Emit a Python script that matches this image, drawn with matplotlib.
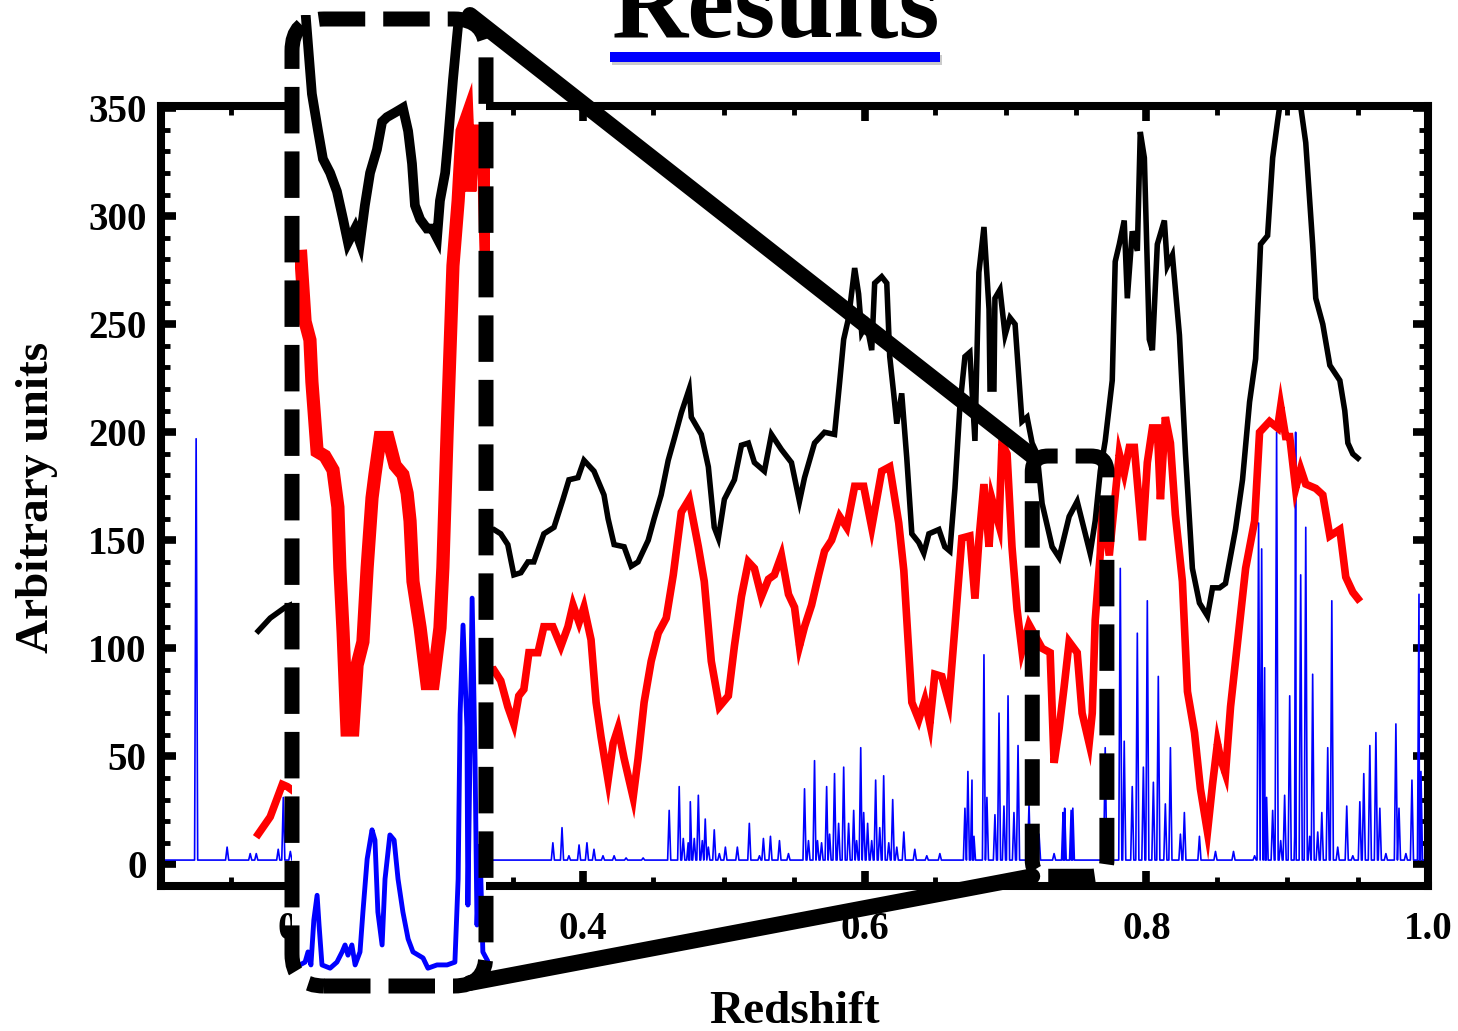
import matplotlib
matplotlib.use("Agg")
import matplotlib.pyplot as plt
from matplotlib.patches import FancyBboxPatch, Rectangle, ConnectionPatch
from matplotlib.transforms import IdentityTransform
from matplotlib.ticker import MultipleLocator

plt.rcParams['font.family'] = ['Liberation Serif', 'DejaVu Serif']
plt.rcParams['font.weight'] = 'bold'

# ------------------------------------------------------------------ data
title_text = "Results"
x_label = "Redshift"
y_label = "Arbitrary units"

x_ticks = [0.2, 0.4, 0.6, 0.8, 1.0]
x_tick_labels = ["0.2", "0.4", "0.6", "0.8", "1.0"]
y_ticks = [0, 50, 100, 150, 200, 250, 300, 350]
y_tick_labels = ["0", "50", "100", "150", "200", "250", "300", "350"]

# black curve (main panel)
black_z = [0.1694, 0.1779, 0.1886, 0.220, 0.260, 0.300, 0.3367, 0.3416, 0.3466, 0.3509,
           0.3559, 0.3609, 0.3651, 0.3722, 0.3794, 0.3858, 0.3900, 0.3964, 0.4007, 0.4078,
           0.4149, 0.4178, 0.4221, 0.4292, 0.4342, 0.4391, 0.4463, 0.4505, 0.4555, 0.4605,
           0.4648, 0.4698, 0.4754, 0.4769, 0.4840, 0.4890, 0.4932, 0.4961, 0.5004, 0.5075,
           0.5125, 0.5174, 0.5217, 0.5288, 0.5338, 0.5409, 0.5480, 0.5537, 0.5573, 0.5644,
           0.5715, 0.5786, 0.5822, 0.5851, 0.5886, 0.5929, 0.5957, 0.5979, 0.6014, 0.6050,
           0.6071, 0.6121, 0.6157, 0.6178, 0.6206, 0.6228, 0.6263, 0.6299, 0.6335, 0.6384,
           0.6420, 0.6456, 0.6527, 0.6569, 0.6605, 0.6641, 0.6676, 0.6712, 0.6747, 0.6783,
           0.6811, 0.6847, 0.6883, 0.6890, 0.6918, 0.6925, 0.6961, 0.6997, 0.7032, 0.7068,
           0.7096, 0.7117, 0.7153, 0.7189, 0.7224, 0.7260, 0.7331, 0.7381, 0.7452, 0.7509,
           0.7559, 0.7601, 0.7637, 0.7673, 0.7708, 0.7758, 0.7779, 0.7808, 0.7843, 0.7865,
           0.7900, 0.7936, 0.7957, 0.7986, 0.8021, 0.8043, 0.8078, 0.8128, 0.8149, 0.8185,
           0.8235, 0.8278, 0.8327, 0.8377, 0.8434, 0.8470, 0.8520, 0.8562, 0.8633, 0.8683,
           0.8733, 0.8776, 0.8811, 0.8861, 0.8897, 0.8932, 0.8954, 0.9089, 0.9132, 0.9181,
           0.9203, 0.9253, 0.9303, 0.9374, 0.9409, 0.9431, 0.9466, 0.9502]
black_v = [108, 114, 119, 128, 140, 150, 155, 153, 148, 134,
           135, 140, 140, 153, 156, 169, 178, 179, 187, 182,
           171, 160, 148, 147, 138, 140, 150, 160, 171, 187,
           197, 209, 220, 207, 199, 184, 156, 151, 169, 178,
           194, 195, 186, 182, 199, 192, 186, 168, 179, 195,
           200, 199, 223, 243, 253, 276, 264, 246, 250, 238,
           269, 272, 269, 235, 218, 204, 218, 188, 153, 149,
           144, 153, 155, 147, 145, 174, 212, 235, 237, 196,
           274, 295, 257, 220, 220, 262, 266, 245, 253, 250,
           224, 205, 207, 195, 190, 167, 147, 142, 161, 168,
           155, 144, 159, 182, 196, 224, 279, 287, 298, 262,
           293, 284, 339, 327, 243, 238, 287, 298, 277, 282,
           245, 190, 137, 121, 115, 128, 128, 130, 155, 178,
           214, 234, 287, 291, 327, 344, 354, 354, 334, 287,
           262, 250, 231, 224, 210, 195, 190, 188]

# red curve (main panel)
red_z = [0.1694, 0.1779, 0.1865, 0.1900, 0.1943, 0.220, 0.260, 0.300, 0.3367, 0.3416,
         0.3466, 0.3509, 0.3544, 0.3580, 0.3616, 0.3680, 0.3722, 0.3786, 0.3843, 0.3893,
         0.3929, 0.3972, 0.4007, 0.4057, 0.4093, 0.4128, 0.4178, 0.4214, 0.4249, 0.4292,
         0.4356, 0.4391, 0.4434, 0.4484, 0.4534, 0.4591, 0.4641, 0.4698, 0.4754, 0.4819,
         0.4861, 0.4911, 0.4968, 0.5032, 0.5075, 0.5125, 0.5174, 0.5217, 0.5267, 0.5317,
         0.5359, 0.5409, 0.5459, 0.5502, 0.5537, 0.5573, 0.5623, 0.5673, 0.5715, 0.5765,
         0.5822, 0.5872, 0.5929, 0.5993, 0.6050, 0.6121, 0.6178, 0.6242, 0.6278, 0.6335,
         0.6384, 0.6427, 0.6463, 0.6498, 0.6548, 0.6598, 0.6641, 0.6690, 0.6747, 0.6783,
         0.6811, 0.6847, 0.6883, 0.6904, 0.6954, 0.6975, 0.7011, 0.7046, 0.7082, 0.7117,
         0.7167, 0.7260, 0.7317, 0.7345, 0.7381, 0.7416, 0.7452, 0.7509, 0.7544, 0.7594,
         0.7616, 0.7637, 0.7673, 0.7687, 0.7737, 0.7779, 0.7808, 0.7843, 0.7879, 0.7915,
         0.7972, 0.8007, 0.8043, 0.8078, 0.8100, 0.8135, 0.8171, 0.8206, 0.8256, 0.8292,
         0.8342, 0.8384, 0.8434, 0.8470, 0.8505, 0.8527, 0.8562, 0.8598, 0.8662, 0.8705,
         0.8769, 0.8804, 0.8875, 0.8932, 0.8954, 0.8989, 0.9018, 0.9060, 0.9096, 0.9132,
         0.9203, 0.9253, 0.9303, 0.9374, 0.9416, 0.9466, 0.9502]
red_v = [14, 22, 37, 36, 34, 45, 70, 85, 90, 85,
         73, 65, 78, 81, 98, 98, 110, 110, 101, 110,
         120, 112, 119, 104, 75, 59, 39, 56, 63, 49,
         31, 49, 75, 94, 107, 114, 134, 163, 169, 147,
         131, 94, 73, 78, 101, 124, 140, 137, 124, 132,
         134, 143, 125, 119, 101, 110, 120, 134, 145, 150,
         161, 156, 175, 175, 156, 182, 184, 158, 136, 75,
         67, 76, 65, 88, 87, 75, 110, 151, 152, 123,
         150, 176, 147, 169, 157, 195, 190, 147, 118, 99,
         111, 100, 98, 47, 63, 82, 103, 98, 70, 56,
         70, 113, 144, 166, 143, 171, 190, 181, 193, 193,
         150, 186, 202, 202, 169, 207, 195, 162, 131, 80,
         61, 35, 15, 37, 56, 49, 42, 73, 111, 137,
         159, 200, 205, 202, 212, 198, 198, 174, 183, 176,
         174, 171, 152, 155, 133, 126, 123]

# blue spectrum (main panel): baseline level and individual peaks
blue_base = 2.0
blue_span = (0.100, 0.997)
blue_peak_z = [0.1253, 0.1473, 0.1637, 0.1680, 0.1836, 0.1872, 0.1922,
               0.3786, 0.3851, 0.3900, 0.3972, 0.4028, 0.4078, 0.4142, 0.4221, 0.4306, 0.4427,
               0.4612, 0.4683, 0.4712, 0.4747, 0.4762, 0.4790, 0.4819, 0.4847, 0.4868, 0.4890,
               0.4932, 0.4968, 0.5011, 0.5096, 0.5181, 0.5253, 0.5281, 0.5331, 0.5395, 0.5459,
               0.5573, 0.5601, 0.5644, 0.5665, 0.5694, 0.5730, 0.5751, 0.5786, 0.5815, 0.5851,
               0.5886, 0.5922, 0.5943, 0.5972, 0.5993, 0.6021, 0.6050, 0.6078, 0.6107, 0.6135,
               0.6171, 0.6199, 0.6228, 0.6278, 0.6356, 0.6441, 0.6534,
               0.6712, 0.6733, 0.6762, 0.6776, 0.6847, 0.6868, 0.6925, 0.6954, 0.6989, 0.7018,
               0.7060, 0.7089, 0.7167, 0.7238, 0.7345, 0.7409, 0.7420, 0.7466, 0.7478,
               0.7708, 0.7815, 0.7843, 0.7900, 0.7936, 0.7979, 0.8007, 0.8050, 0.8085, 0.8135,
               0.8171, 0.8242, 0.8270, 0.8377, 0.8491, 0.8619, 0.8769,
               0.8797, 0.8819, 0.8840, 0.8854, 0.8897, 0.8925, 0.8954, 0.8982, 0.9018, 0.9053,
               0.9060, 0.9096, 0.9132, 0.9160, 0.9181, 0.9217, 0.9246, 0.9288, 0.9317, 0.9359,
               0.9423, 0.9466, 0.9516, 0.9544, 0.9587, 0.9630, 0.9658, 0.9701, 0.9772, 0.9794,
               0.9843, 0.9886, 0.9936, 0.9950]
blue_peak_v = [197, 8, 5, 5, 7, 31, 6,
               10, 17, 4, 9, 10, 7, 4, 4, 3, 3,
               25, 36, 12, 10, 29, 12, 32, 11, 21, 8,
               16, 5, 8, 8, 19, 4, 12, 13, 11, 5,
               35, 11, 48, 11, 10, 36, 14, 42, 19, 45,
               19, 25, 11, 54, 24, 19, 11, 39, 17, 41,
               10, 30, 8, 15, 7, 4, 5,
               26, 43, 39, 13, 97, 31, 23, 70, 27, 78,
               24, 55, 28, 14, 5, 24, 26, 25, 26,
               54, 137, 57, 36, 107, 45, 122, 38, 87, 28,
               54, 14, 24, 13, 6, 6, 4,
               158, 146, 91, 31, 25, 200, 11, 32, 78, 13,
               200, 134, 156, 13, 88, 15, 24, 54, 122, 8,
               27, 4, 29, 42, 55, 61, 26, 5, 65, 26,
               5, 39, 125, 43]

# zoomed region shown in the inset (redshift, arbitrary units)
zoom_z = (0.719, 0.772)
zoom_v = (-5.5, 189.0)

# inset curves
inset_black_z = [0.7214, 0.7232, 0.7251, 0.7266, 0.7288, 0.7309, 0.7328, 0.7343, 0.7365, 0.7380,
                 0.7395, 0.7411, 0.7432, 0.7448, 0.7463, 0.7488, 0.7512, 0.7528, 0.7540, 0.7549,
                 0.7565, 0.7586, 0.7602, 0.7617, 0.7626, 0.7642, 0.7651, 0.7666, 0.7678, 0.7685]
inset_black_v = [199, 183, 175, 169, 166, 162, 156, 151, 154, 151,
                 159, 166, 171, 177, 178, 179, 180, 175, 168, 159,
                 156, 154, 154, 152, 160, 166, 173, 186, 195, 200]
inset_red_z = [0.7198, 0.7211, 0.7226, 0.7232, 0.7248, 0.7272, 0.7297, 0.7312, 0.7318, 0.7328,
               0.7340, 0.7358, 0.7371, 0.7389, 0.7402, 0.7417, 0.7426, 0.7442, 0.7466, 0.7488,
               0.7512, 0.7525, 0.7534, 0.7543, 0.7565, 0.7586, 0.7605, 0.7626, 0.7635, 0.7648,
               0.7666, 0.7682, 0.7694, 0.7709, 0.7718, 0.7728, 0.7758, 0.7768]
inset_red_v = [148, 134, 130, 121, 106, 105, 102, 94, 81, 67,
               46, 46, 60, 65, 81, 96, 101, 109, 109, 103,
               101, 97, 91, 78, 68, 56, 56, 68, 81, 110,
               146, 160, 175, 178, 162, 175, 175, 149]
inset_blue_z = [0.7195, 0.7211, 0.7220, 0.7229, 0.7238, 0.7248, 0.7254, 0.7263, 0.7288, 0.7309,
                0.7325, 0.7334, 0.7343, 0.7355, 0.7365, 0.7380, 0.7389, 0.7402, 0.7417, 0.7426,
                0.7435, 0.7448, 0.7457, 0.7472, 0.7485, 0.7497, 0.7512, 0.7528, 0.7543, 0.7574,
                0.7589, 0.7617, 0.7648, 0.7672, 0.7682, 0.7688, 0.7697, 0.7709, 0.7712, 0.7725,
                0.7734, 0.7740, 0.7749, 0.7758, 0.7771]
inset_blue_v = [-4.6, -4.0, -1.8, -4.6, 5.1, 10.4, 4.0, -4.6, -5.3, -4.0,
                -1.8, -0.3, -2.5, -0.3, -4.6, -1.8, 6.8, 18.2, 24.5, 22.3,
                6.8, -0.3, 13.9, 23.4, 22.3, 13.9, 6.8, 1.0, -1.8, -3.1,
                -5.3, -4.6, -4.6, -4.0, 13.9, 49.4, 68.6, 46.6, 8.3, 74.4,
                39.5, 4.0, 21.0, -1.8, -3.5]

# ------------------------------------------------------------------ layout
W, H = 1458, 1031
DPI = 100
BLACK, RED, BLUE = "#000000", "#ff0000", "#0000ff"


def fx(px):
    return px / W


def fy(py):
    return 1.0 - py / H


def spike_path(peaks_z, peaks_v, base, span, half=0.0011):
    pts = [(span[0], base), (span[1], base)]
    for z, v in zip(peaks_z, peaks_v):
        pts += [(z - half, base), (z, v), (z + half, base)]
    pts.sort(key=lambda p: p[0])
    return [p[0] for p in pts], [p[1] for p in pts]


fig = plt.figure(figsize=(W / DPI, H / DPI), dpi=DPI)
fig.patch.set_facecolor("white")

ax = fig.add_axes([fx(160.5), fy(886), fx(1428) - fx(160.5), fy(106) - fy(886)])
ax.set_xlim(0.1, 1.0)
ax.set_ylim(-10, 351)

bz, bv = spike_path(blue_peak_z, blue_peak_v, blue_base, blue_span)
ax.plot(bz, bv, color=BLUE, lw=1.2, zorder=2)
ax.plot(red_z, red_v, color=RED, lw=5.5, zorder=3, solid_joinstyle="miter")
ax.plot(black_z, black_v, color=BLACK, lw=4.0, zorder=4, solid_joinstyle="miter")

ax.set_xticks(x_ticks)
ax.set_xticklabels(x_tick_labels)
ax.set_yticks(y_ticks)
ax.set_yticklabels(y_tick_labels)
ax.xaxis.set_minor_locator(MultipleLocator(0.05))
ax.yaxis.set_minor_locator(MultipleLocator(10))
ax.tick_params(which="both", direction="in", top=True, right=True, color=BLACK)
ax.tick_params(which="major", length=10.8, width=5.5, labelsize=28)
ax.tick_params(which="minor", length=6.7, width=3.5)
ax.tick_params(axis="y", which="major", pad=10)
ax.tick_params(axis="x", which="major", pad=18)
for lab in ax.get_xticklabels() + ax.get_yticklabels():
    lab.set_fontweight("bold")
for s in ax.spines.values():
    s.set_linewidth(5.8)
    s.set_color(BLACK)

# axis labels and title
fig.text(fx(794), fy(1023), x_label, ha="center", va="baseline",
         fontsize=34, fontweight="bold")
fig.text(fx(37), fy(497), y_label, ha="center", va="center", rotation=90,
         fontsize=34, fontweight="bold")
fig.text(fx(775), fy(36), title_text, ha="center", va="baseline",
         fontsize=76, fontweight="bold")

# title underline with a faint shadow
ident = IdentityTransform()
fig.add_artist(Rectangle((612, H - 65), 330, 10, transform=ident,
                         facecolor="#999999", edgecolor="none", alpha=0.5, zorder=1))
fig.add_artist(Rectangle((610, H - 62), 330, 10, transform=ident,
                         facecolor=BLUE, edgecolor="none", zorder=2))

# ---------------------------------------------------------------- inset
box_l, box_t, box_r, box_b = 292, 19, 486, 986
dash = (0, (3.1, 1.2))
fig.add_artist(FancyBboxPatch((box_l, H - box_b), box_r - box_l, box_b - box_t,
                              boxstyle="round,pad=0,rounding_size=32", transform=ident,
                              facecolor="white", edgecolor="none", zorder=2))

axin = fig.add_axes([fx(295), fy(990), fx(490) - fx(295), fy(15) - fy(990)], zorder=3)
axin.set_xlim(0.718, 0.778)
axin.set_ylim(-10, 200)
axin.set_facecolor("none")
axin.axis("off")
axin.plot(inset_blue_z, inset_blue_v, color=BLUE, lw=3.5)
axin.plot(inset_red_z, inset_red_v, color=RED, lw=9.5, solid_joinstyle="miter")
axin.plot(inset_black_z, inset_black_v, color=BLACK, lw=7.0, solid_joinstyle="miter")

fig.add_artist(FancyBboxPatch((box_l, H - box_b), box_r - box_l, box_b - box_t,
                              boxstyle="round,pad=0,rounding_size=32", transform=ident,
                              facecolor="none", edgecolor=BLACK, linewidth=10.8,
                              linestyle=dash, zorder=6))

# small dashed box on the main panel around the zoomed region
(sx0, sy0) = ax.transData.transform((zoom_z[0], zoom_v[0]))
(sx1, sy1) = ax.transData.transform((zoom_z[1], zoom_v[1]))
fig.add_artist(FancyBboxPatch((sx0, sy0), sx1 - sx0, sy1 - sy0,
                              boxstyle="round,pad=0,rounding_size=16", transform=ident,
                              facecolor="none", edgecolor=BLACK, linewidth=10.8,
                              linestyle=dash, zorder=6))

# connectors between the inset and the zoomed region
for (pa, pb) in [((470, H - 15), (zoom_z[0], zoom_v[1])),
                 ((470, H - 983), (zoom_z[0], zoom_v[0]))]:
    con = ConnectionPatch(xyA=pa, coordsA="figure pixels",
                          xyB=pb, coordsB=ax.transData,
                          color=BLACK, linewidth=11.5, shrinkA=0, shrinkB=0, zorder=7)
    fig.add_artist(con)

fig.savefig("out.png", dpi=DPI, facecolor="white")
